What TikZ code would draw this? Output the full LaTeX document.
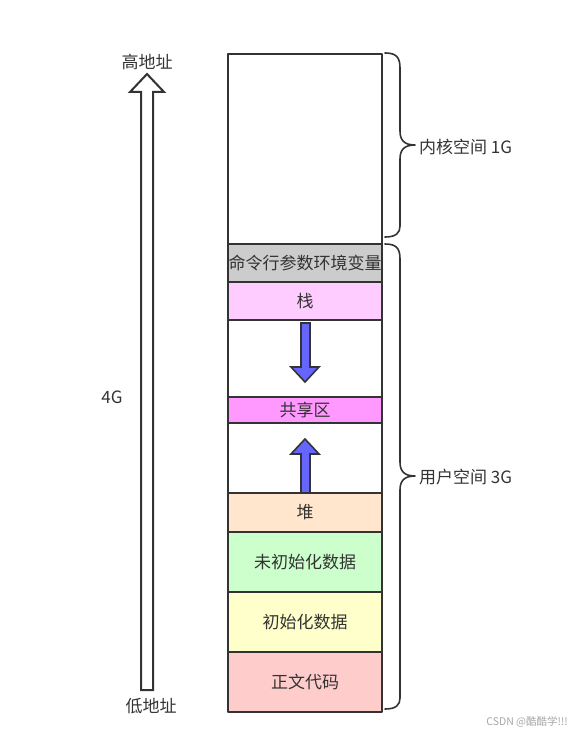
\documentclass[tikz,border=0pt]{standalone}
\usepackage{fontspec}
\setmainfont{Noto Sans CJK SC}
\definecolor{edge}{HTML}{333333}
\definecolor{cmdgray}{HTML}{CCCCCC}
\definecolor{stackpink}{HTML}{FFCCFF}
\definecolor{sharedpink}{HTML}{FF99FF}
\definecolor{heaporange}{HTML}{FFE6CC}
\definecolor{bssgreen}{HTML}{CCFFCC}
\definecolor{datayellow}{HTML}{FFFFCC}
\definecolor{textred}{HTML}{FFCCCC}
\definecolor{growblue}{HTML}{6666FF}
\tikzset{
  seg/.style={draw=edge,line width=2pt,minimum width=154pt,inner sep=0pt,outer sep=0pt,
    font=\fontsize{17}{19}\selectfont,text=edge},
  lbl/.style={font=\fontsize{17}{19}\selectfont,text=edge,inner sep=0pt},
  growarrow/.style={draw=edge,line width=1.6pt,fill=growblue,line join=miter},
  curly/.style={draw=edge,line width=1.6pt,line cap=round}
}
\begin{document}
\begin{tikzpicture}[x=1pt,y=-1pt,line join=round]
  \useasboundingbox (0,0) rectangle (575,738);
  % memory layout, top to bottom
  \node[seg,minimum height=190pt] (kernel) at (305,149) {};
  \node[seg,fill=cmdgray,minimum height=38pt] (cmdline) at (305,263) {命令行参数环境变量};
  \node[seg,fill=stackpink,minimum height=38pt] (stack) at (305,301) {栈};
  \node[seg,minimum height=77pt] (gapa) at (305,358.5) {};
  \node[seg,fill=sharedpink,minimum height=26pt] (shared) at (305,410) {共享区};
  \node[seg,minimum height=70pt] (gapb) at (305,458) {};
  \node[seg,fill=heaporange,minimum height=39pt] (heap) at (305,512.5) {堆};
  \node[seg,fill=bssgreen,minimum height=60pt] (bss) at (305,562) {未初始化数据};
  \node[seg,fill=datayellow,minimum height=60pt] (data) at (305,622) {初始化数据};
  \node[seg,fill=textred,minimum height=60pt] (code) at (305,682) {正文代码};
  % growth of stack and heap
  \draw[growarrow] (301,323) -- (310,323) -- (310,367) -- (319,367) -- (305,382)
    -- (291,367) -- (301,367) -- cycle;
  \draw[growarrow] (301,493) -- (310,493) -- (310,454) -- (319,454) -- (305,439)
    -- (291,454) -- (301,454) -- cycle;
  % address axis
  \draw[edge,line width=2pt,fill=white,line join=miter] (141,690) -- (153,690) -- (153,92)
    -- (164,92) -- (147,74) -- (130,92) -- (141,92) -- cycle;
  \node[lbl] (high) at (147,62) {高地址};
  \node[lbl] (low) at (151,706) {低地址};
  \node[lbl] (total) at (112,397) {4G};
  % braces
  \draw[curly] (385,53) .. controls (396,53) and (400,57) .. (400,68) -- (400,131)
    .. controls (400,140) and (404,145) .. (415,145)
    .. controls (404,145) and (400,150) .. (400,159) -- (400,226)
    .. controls (400,233) and (396,237) .. (385,237);
  \draw[curly] (385,244) .. controls (396,244) and (400,248) .. (400,259) -- (400,462)
    .. controls (400,471) and (404,476) .. (415,476)
    .. controls (404,476) and (400,481) .. (400,490) -- (400,698)
    .. controls (400,705) and (396,709) .. (385,709);
  \node[lbl,anchor=west] (kspace) at (419,147) {内核空间 1G};
  \node[lbl,anchor=west] (uspace) at (419,477) {用户空间 3G};
  \node[anchor=east,inner sep=0pt,font=\fontsize{10.5}{12}\selectfont,text=gray!70] (mark)
    at (568,722) {CSDN @酷酷学!!!};
\end{tikzpicture}
\end{document}
